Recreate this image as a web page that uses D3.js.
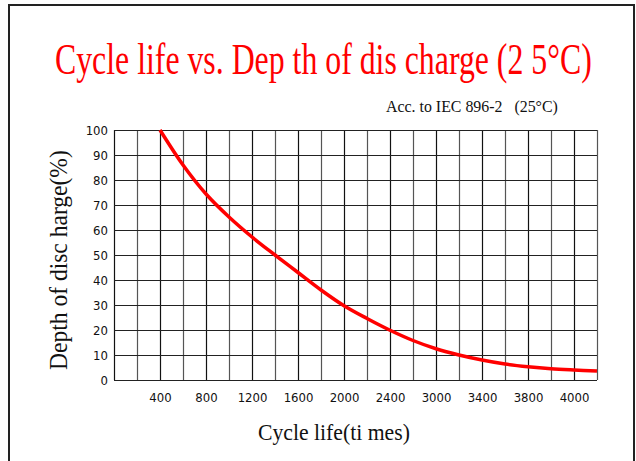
<!DOCTYPE html>
<html lang="en">
  <head>
    <meta charset="UTF-8" />
    <script src="https://d3js.org/d3.v7.min.js"></script>
    <title>Cycle life vs. Depth of discharge</title>
    <style>
      body { margin: 0; background: #fff; }
    </style>
  </head>
  <body>
    <script>
      // curve (x in grid units, 200 per column)
      let cycles = [400, 600, 800, 1000, 1200, 1400, 1600, 1800, 2000, 2200, 2400, 2600, 2800, 3000, 3200, 3400, 3600, 3800, 4000, 4200];
      let depth = [100, 86, 74.4, 65.2, 57.2, 50, 43, 36, 29.7, 24.6, 19.9, 15.8, 12.5, 10, 8, 6.4, 5.3, 4.5, 4.0, 3.6];

      // x tick positions and the labels printed under them
      let xTicks = [400, 800, 1200, 1600, 2000, 2400, 2800, 3200, 3600, 4000];
      let xTickLabels = ["400", "800", "1200", "1600", "2000", "2400", "3000", "3400", "3800", "4000"];
      let yTicks = [0, 10, 20, 30, 40, 50, 60, 70, 80, 90, 100];

      let width = 636, height = 461;
      let plotLeft = 114, plotRight = 597, plotTop = 130, plotBottom = 380;

      let svg = d3
        .select("body")
        .append("svg")
        .attr("width", width)
        .attr("height", height);

      // outer frame
      svg.append("rect")
        .attr("x", 9)
        .attr("y", 5)
        .attr("width", 625)
        .attr("height", 470)
        .attr("fill", "none")
        .attr("stroke", "#222")
        .attr("stroke-width", 2);

      let x = d3.scaleLinear().domain([0, 4200]).range([plotLeft, plotRight]);
      let y = d3.scaleLinear().domain([0, 100]).range([plotBottom, plotTop]);

      // grid
      let g = svg.append("g");
      g.selectAll("line.v")
        .data(d3.range(0, 4201, 200))
        .enter()
        .append("line")
        .attr("x1", (d) => Math.round(x(d)) + 0.5)
        .attr("x2", (d) => Math.round(x(d)) + 0.5)
        .attr("y1", plotTop)
        .attr("y2", plotBottom)
        .attr("stroke", (d, i) => (i % 2 ? "#555" : "#111"))
        .attr("stroke-width", 1.2);
      g.selectAll("line.h")
        .data(yTicks)
        .enter()
        .append("line")
        .attr("x1", plotLeft)
        .attr("x2", plotRight)
        .attr("y1", (d) => Math.round(y(d)) + 0.5)
        .attr("y2", (d) => Math.round(y(d)) + 0.5)
        .attr("stroke", "#222")
        .attr("stroke-width", 1.2);

      // axes (labels only, lines come from the grid)
      let xAxis = d3.axisBottom(x)
        .tickValues(xTicks)
        .tickFormat((d, i) => xTickLabels[i])
        .tickSize(0)
        .tickPadding(13);
      let ax = svg.append("g")
        .attr("transform", `translate(0,${plotBottom})`)
        .call(xAxis);
      ax.select(".domain").remove();

      let yAxis = d3.axisLeft(y).tickValues(yTicks).tickSize(0).tickPadding(6);
      let ay = svg.append("g")
        .attr("transform", `translate(${plotLeft},0)`)
        .call(yAxis);
      ay.select(".domain").remove();

      svg.selectAll(".tick text")
        .style("font-family", "'Liberation Sans Narrow', 'DejaVu Sans Condensed', sans-serif")
        .style("font-size", "13px")
        .attr("fill", "#111");

      // curve
      let line = d3.line()
        .x((d, i) => x(cycles[i]))
        .y((d) => y(d))
        .curve(d3.curveCatmullRom);
      svg.append("path")
        .datum(depth)
        .attr("d", line)
        .attr("fill", "none")
        .attr("stroke", "#ff0000")
        .attr("stroke-width", 3.5);

      // squeeze a text horizontally to a given width, like the condensed originals
      function fitText(sel, x0, y0, w, rotate) {
        let natural = sel.node().getComputedTextLength();
        let k = w / natural;
        let t = `translate(${x0},${y0})` + (rotate ? ` rotate(${rotate})` : "") + ` scale(${k},1)`;
        sel.attr("transform", t);
      }

      let title = svg.append("text")
        .style("font-family", "'Liberation Serif', serif")
        .style("font-size", "44px")
        .attr("fill", "#ff0000")
        .text("Cycle life vs. Dep th of dis charge (2 5°C)");
      fitText(title, 55, 74, 537);

      let sub = svg.append("text")
        .style("font-family", "'Liberation Serif', serif")
        .style("font-size", "16px")
        .style("white-space", "pre")
        .attr("fill", "#111")
        .text("Acc. to IEC 896-2   (25°C)");
      fitText(sub, 386, 112, 172);

      let xlab = svg.append("text")
        .style("font-family", "'Liberation Serif', serif")
        .style("font-size", "24px")
        .attr("fill", "#111")
        .text("Cycle life(ti mes)");
      fitText(xlab, 258, 440, 152);

      let ylab = svg.append("text")
        .style("font-family", "'Liberation Serif', serif")
        .style("font-size", "25px")
        .attr("fill", "#111")
        .text("Depth of disc harge(%)");
      fitText(ylab, 67, 370, 220, -90);
    </script>
  </body>
</html>
